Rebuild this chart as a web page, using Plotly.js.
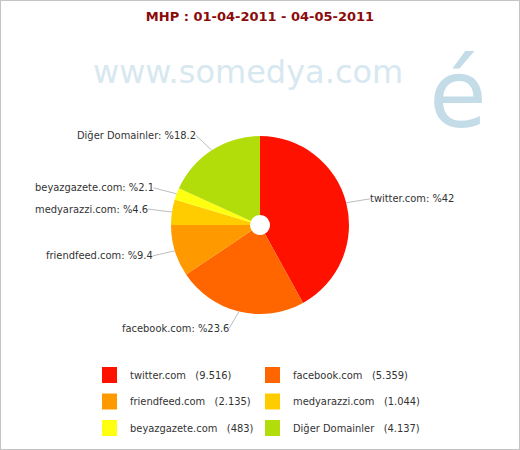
<!DOCTYPE html>
<html>
<head>
<meta charset="utf-8">
<script src="https://cdn.plot.ly/plotly-3.0.1.min.js"></script>
<style>
html,body{margin:0;padding:0;background:#fff;}
#chart{width:518px;height:448px;border:1px solid #c4c4c4;}
</style>
</head>
<body>
<div id="chart"></div>
<script>
var labels = ['twitter.com','facebook.com','friendfeed.com','medyarazzi.com','beyazgazete.com','Diğer Domainler'];
var values = [9516, 5359, 2135, 1044, 483, 4137];
var valueLabels = ['9.516','5.359','2.135','1.044','483','4.137'];
var percentLabels = ['42','23.6','9.4','4.6','2.1','18.2'];
var colors = ['#ff1100','#ff6600','#ff9900','#ffcc00','#ffff11','#b3dd0a'];
var titleText = 'MHP : 01-04-2011 - 04-05-2011';

// layout helpers (pixel offsets of slice labels from slice edge)
var labelDX = [24, -10, -22, -24, -23, -16];
var labelDY = [-4, 17, 5, -3, -6, -15];

var W = 518, H = 448;
function px(x){ return (x - 1) / W; }
function py(y){ return 1 - (y - 1) / H; }

var pieL = 171, pieR = 349, pieT = 136, pieB = 314;
var cx = (pieL + pieR) / 2, cy = (pieT + pieB) / 2, rad = (pieR - pieL) / 2;

var trace = {
  type: 'pie',
  labels: labels,
  values: values,
  textinfo: 'none',
  sort: false,
  direction: 'clockwise',
  rotation: 0,
  hole: 0.112,
  marker: {colors: colors, line: {width: 0}},
  domain: {x: [px(pieL), px(pieR)], y: [py(pieB), py(pieT)]},
  showlegend: false,
  hoverinfo: 'none'
};

var shapes = [], annotations = [];
var font = {family: 'DejaVu Sans Condensed, DejaVu Sans', size: 11, color: '#333'};

// watermark (drawn first, behind other text)
annotations.push({xref: 'paper', yref: 'paper', x: px(248), y: py(72),
  xanchor: 'center', yanchor: 'middle', showarrow: false,
  text: 'www.somedya.com',
  font: {family: 'DejaVu Sans', size: 32, color: '#d7e8f0'}});
annotations.push({xref: 'paper', yref: 'paper', x: px(458), y: py(94),
  xanchor: 'center', yanchor: 'middle', showarrow: false,
  text: 'é',
  font: {family: 'DejaVu Sans', size: 94, color: '#c4dce8', weight: 500}});

// slice labels with leader lines
var total = values.reduce(function(a, b){ return a + b; }, 0);
var cum = 0;
values.forEach(function(v, i){
  var mid = (cum + v / 2) / total;
  cum += v;
  var th = 2 * Math.PI * mid;
  var ex = cx + rad * Math.sin(th), ey = cy - rad * Math.cos(th);
  annotations.push({xref: 'paper', yref: 'paper', x: px(ex), y: py(ey),
    ax: labelDX[i], ay: labelDY[i], axref: 'pixel', ayref: 'pixel',
    xanchor: labelDX[i] > 0 ? 'left' : 'right', yanchor: 'middle',
    showarrow: true, arrowhead: 0, arrowwidth: 1, arrowcolor: '#bdbdbd', standoff: 0,
    borderpad: 0, borderwidth: 0,
    text: labels[i] + ': %' + percentLabels[i], font: font});
});

// legend
labels.forEach(function(l, i){
  var col = i % 2, row = Math.floor(i / 2);
  var x0 = 102 + col * 163, yc = 375 + row * 26.5;
  shapes.push({type: 'rect', xref: 'paper', yref: 'paper',
    x0: px(x0), x1: px(x0 + 15), y0: py(yc + 8), y1: py(yc - 8),
    fillcolor: colors[i], line: {width: 0}});
  annotations.push({xref: 'paper', yref: 'paper', x: px(x0 + 26), y: py(yc),
    xanchor: 'left', yanchor: 'middle', showarrow: false,
    text: l + '\u00a0\u00a0\u00a0(' + valueLabels[i] + ')', font: font});
});

var layout = {
  width: W, height: H,
  margin: {l: 0, r: 0, t: 0, b: 0},
  paper_bgcolor: '#fff',
  title: {text: titleText, x: 0.5, xanchor: 'center', y: py(16), yref: 'paper', yanchor: 'middle',
    font: {family: 'DejaVu Sans', size: 13, color: '#8b0b0b', weight: 'bold'}},
  shapes: shapes,
  annotations: annotations,
  showlegend: false
};

Plotly.newPlot('chart', [trace], layout, {displayModeBar: false, staticPlot: true});
</script>
</body>
</html>
